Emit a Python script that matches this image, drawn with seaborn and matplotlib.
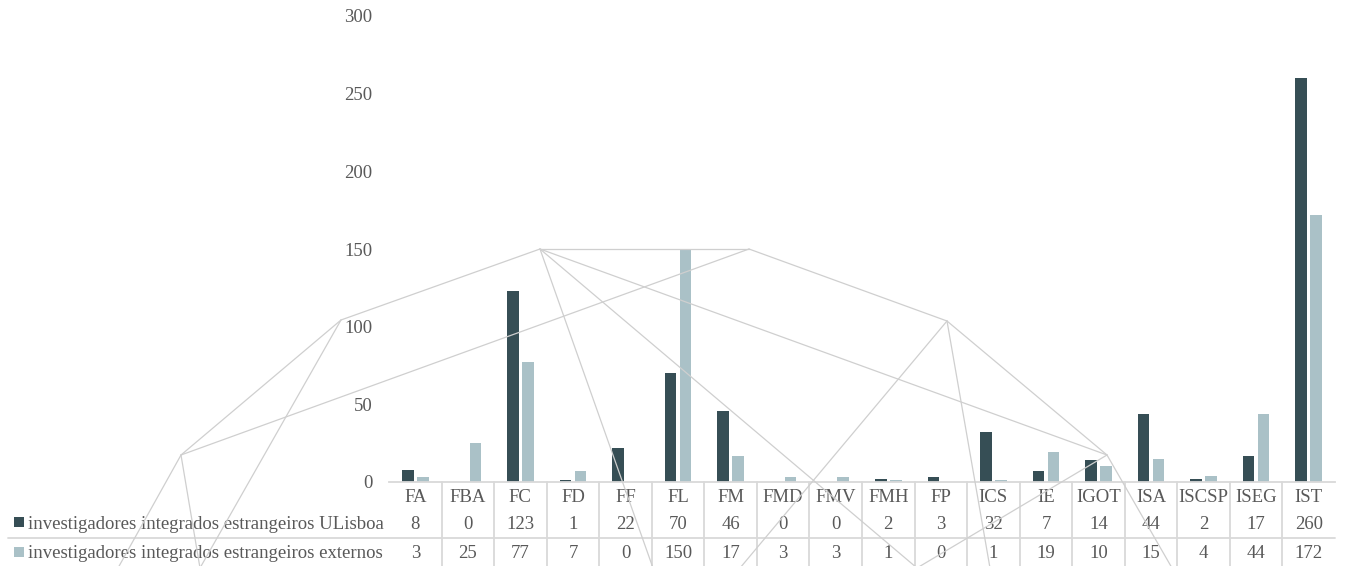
import pandas as pd
import matplotlib
matplotlib.use('Agg')
import matplotlib.pyplot as plt
import matplotlib.transforms as mtransforms
from matplotlib.lines import Line2D
from matplotlib.patches import Rectangle
import seaborn as sns

# dados
unidades = ['FA', 'FBA', 'FC', 'FD', 'FF', 'FL', 'FM', 'FMD', 'FMV', 'FMH',
            'FP', 'ICS', 'IE', 'IGOT', 'ISA', 'ISCSP', 'ISEG', 'IST']
ulisboa = [8, 0, 123, 1, 22, 70, 46, 0, 0, 2, 3, 32, 7, 14, 44, 2, 17, 260]
externos = [3, 25, 77, 7, 0, 150, 17, 3, 3, 1, 0, 1, 19, 10, 15, 4, 44, 172]
series = ['investigadores integrados estrangeiros ULisboa',
          'investigadores integrados estrangeiros externos']
cores = ['#364E55', '#AAC1C7']

df = pd.DataFrame({
    'unidade': unidades * 2,
    'valor': ulisboa + externos,
    'serie': [series[0]] * len(unidades) + [series[1]] * len(unidades),
})

sns.set_style('white')
plt.rcParams['font.family'] = ['Liberation Serif', 'DejaVu Serif']

W, H = 1345, 566
cinza = '#595959'
linha = '#D9D9D9'
fs = 13.5

fig = plt.figure(figsize=(W / 100, H / 100), dpi=100)
ax = fig.add_axes([389 / W, (H - 482) / H, (1335 - 389) / W, (482 - 16) / H])

sns.barplot(data=df, x='unidade', y='valor', hue='serie', palette=cores,
            width=0.57, gap=0.23, saturation=1, linewidth=0, legend=False, ax=ax)

ax.set_xlim(-0.5, len(unidades) - 0.5)
ax.set_ylim(0, 300)
ax.set_yticks(range(0, 301, 50))
ax.set_xticks([])
ax.set_xlabel('')
ax.set_ylabel('')
ax.tick_params(axis='y', length=0, pad=12, labelsize=fs, labelcolor=cinza)
for s in ['top', 'right', 'left']:
    ax.spines[s].set_visible(False)
ax.spines['bottom'].set_color(linha)
ax.spines['bottom'].set_linewidth(1.3)

# tabela de dados por baixo do grafico
trans = mtransforms.blended_transform_factory(ax.transData, fig.transFigure)
y_cab = (H - 502) / H
y_lin = [(H - 529) / H, (H - 558) / H]
valores = [ulisboa, externos]
for i, u in enumerate(unidades):
    ax.text(i, y_cab, u, transform=trans, ha='center', va='baseline',
            fontsize=fs, color=cinza)
    for r in range(2):
        ax.text(i, y_lin[r], str(valores[r][i]), transform=trans, ha='center',
                va='baseline', fontsize=fs, color=cinza)
for i in range(len(unidades) - 1):
    ax.plot([i + 0.5, i + 0.5], [(H - 482) / H, 0], transform=trans,
            color=linha, lw=1.3, clip_on=False)
fig.add_artist(Line2D([8 / W, 1335 / W], [(H - 538) / H] * 2, color=linha, lw=1.3))

for r in range(2):
    yc = [(H - 522) / H, (H - 552) / H][r]
    fig.add_artist(Rectangle((14 / W, yc - 5 / H), 10 / W, 10 / H,
                             color=cores[r], lw=0))
    fig.text(28 / W, y_lin[r], series[r], ha='left', va='baseline',
             fontsize=fs, color=cinza)

# rede decorativa em fundo (pixeis da imagem)
nos = {'A': (181, 455), 'B': (341, 320), 'C': (540, 249), 'D': (749, 249),
       'E': (947, 321), 'F': (1107, 455),
       'P1': (118, 568), 'P2': (200, 568), 'P3': (653, 568), 'P4': (740, 568),
       'P5': (917, 568), 'P6': (990, 568), 'P7': (1172, 568)}
arestas = [('A', 'B'), ('A', 'D'), ('A', 'P1'), ('A', 'P2'), ('B', 'C'),
           ('B', 'P2'), ('C', 'D'), ('C', 'P3'), ('C', 'P5'), ('C', 'F'),
           ('D', 'E'), ('E', 'F'), ('E', 'P4'), ('E', 'P6'), ('F', 'P5'),
           ('F', 'P7')]
for a, b in arestas:
    (x1, y1), (x2, y2) = nos[a], nos[b]
    fig.add_artist(Line2D([x1 / W, x2 / W], [(H - y1) / H, (H - y2) / H],
                          color='#CFCFCF', lw=0.9, zorder=5))

fig.savefig('out.png', dpi=100)
